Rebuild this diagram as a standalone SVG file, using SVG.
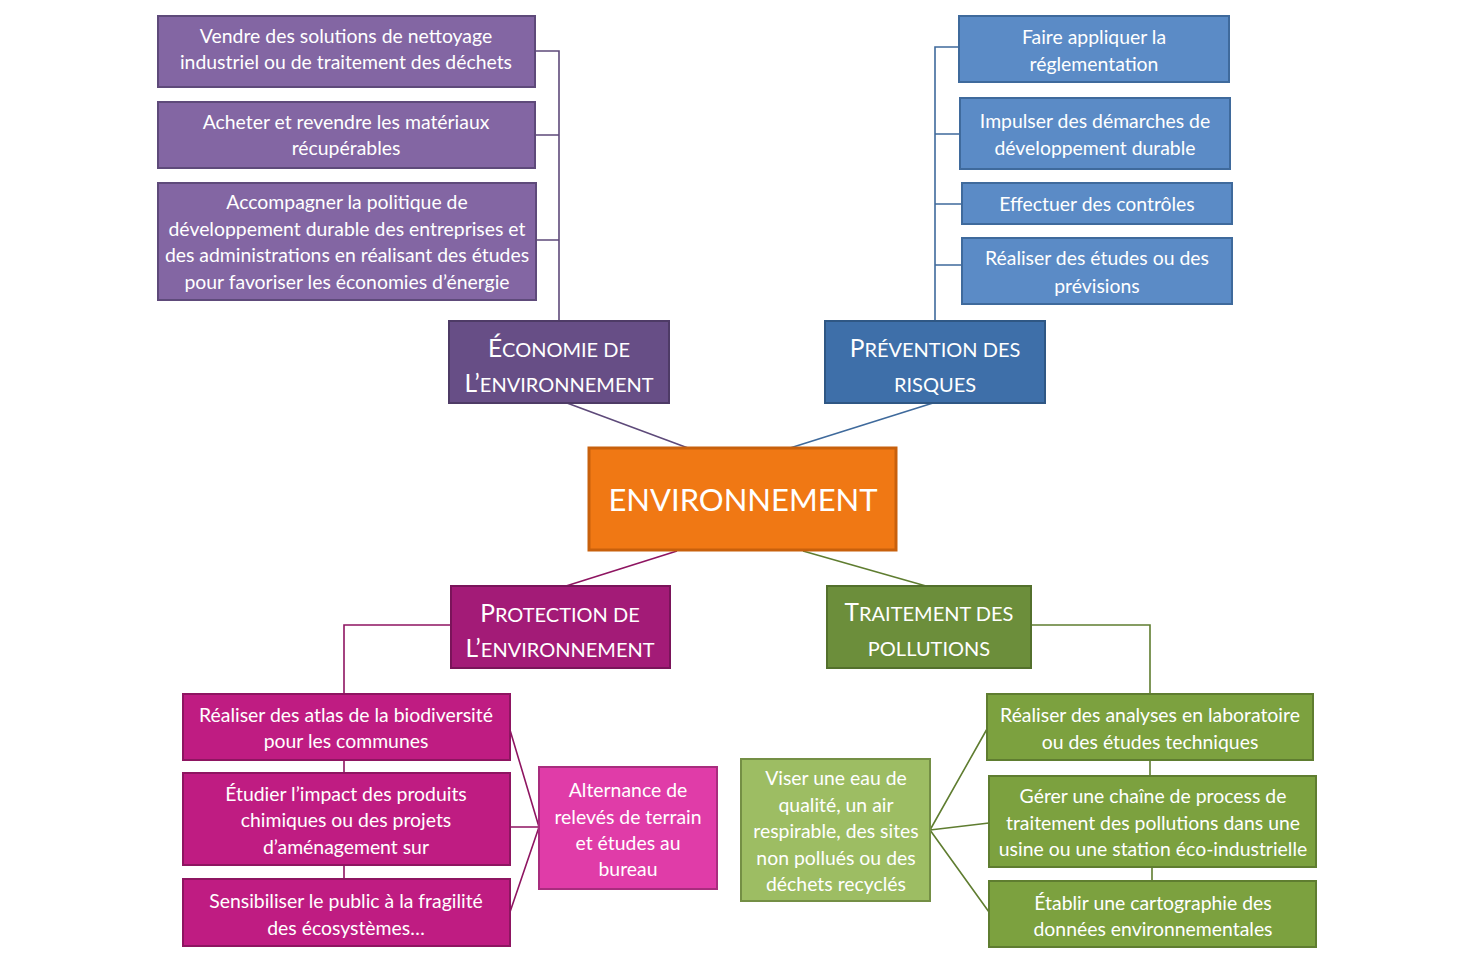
<svg xmlns="http://www.w3.org/2000/svg" width="1460" height="973" viewBox="0 0 1460 973">
<style>
text{font-family:Lato,"Open Sans","Liberation Sans",sans-serif;fill:#fff;text-anchor:middle}
.t{font-size:19.4px}
.h{font-size:20px}
.hb{font-size:24.5px}
.pu{fill:#8366a3;stroke:#5e4a7a;stroke-width:2}
.puh{fill:#674e86;stroke:#4e3b66;stroke-width:2}
.bl{fill:#5b8bc6;stroke:#3f6a9c;stroke-width:2}
.blh{fill:#3e6fa9;stroke:#2f5784;stroke-width:2}
.mg{fill:#bf1c82;stroke:#8e1561;stroke-width:2}
.mgh{fill:#a31b77;stroke:#7a145a;stroke-width:2}
.pk{fill:#e03ca8;stroke:#a82d7e;stroke-width:2}
.gr{fill:#7ca13f;stroke:#5f7d30;stroke-width:2}
.grh{fill:#6c8e3b;stroke:#53702c;stroke-width:2}
.gl{fill:#9dbd63;stroke:#748f45;stroke-width:2}
.or{fill:#f07814;stroke:#c8600c;stroke-width:3}
.c{fill:none;stroke-width:1.6}
</style>
<rect width="1460" height="973" fill="#fff"/>
<g id="connectors">
<path class="c" stroke="#5e4a7a" d="M535 51H559V321M535 135H559M536 240H559"/>
<path class="c" stroke="#5e4a7a" d="M567 403L688 448"/>
<path class="c" stroke="#3f6a9c" d="M959 47H935V321M960 134H935M962 204H935M962 265H935"/>
<path class="c" stroke="#3f6a9c" d="M933 403L790 448"/>
<path class="c" stroke="#8e1561" d="M677 551L566 586"/>
<path class="c" stroke="#8e1561" d="M451 625H344V694M344 760V773M344 865V879"/>
<path class="c" stroke="#8e1561" d="M539 827L510 730M539 827H510M539 827L510 912"/>
<path class="c" stroke="#5f7d30" d="M803 551L926 586"/>
<path class="c" stroke="#5f7d30" d="M1031 625H1150V694M1150 760V776M1152 867V881"/>
<path class="c" stroke="#5f7d30" d="M930 830L987 729M930 830L989 823M930 830L989 912"/>
</g>
<g id="n-center"><rect class="or" x="589" y="448" width="307" height="102"/><text x="743" y="511" style="font-size:31px">ENVIRONNEMENT</text></g>
<g id="n-eco"><rect class="puh" x="449" y="321" width="220" height="82"/>
<text x="559" y="357"><tspan class="hb">É</tspan><tspan class="h">CONOMIE DE</tspan></text>
<text x="559" y="392"><tspan class="hb">L’</tspan><tspan class="h">ENVIRONNEMENT</tspan></text></g>
<g id="n-eco1"><rect class="pu" x="158" y="16" width="377" height="71"/><text class="t" x="346" y="43">Vendre des solutions de nettoyage</text><text class="t" x="346" y="69">industriel ou de traitement des déchets</text></g>
<g id="n-eco2"><rect class="pu" x="158" y="102" width="377" height="66"/><text class="t" x="346" y="129">Acheter et revendre les matériaux</text><text class="t" x="346" y="155">récupérables</text></g>
<g id="n-eco3"><rect class="pu" x="158" y="183" width="378" height="117"/><text class="t" x="347" y="209">Accompagner la politique de</text><text class="t" x="347" y="236">développement durable des entreprises et</text><text class="t" x="347" y="262">des administrations en réalisant des études</text><text class="t" x="347" y="289">pour favoriser les économies d’énergie</text></g>
<g id="n-prev"><rect class="blh" x="825" y="321" width="220" height="82"/>
<text x="935" y="357"><tspan class="hb">P</tspan><tspan class="h">RÉVENTION DES</tspan></text>
<text x="935" y="392"><tspan class="h">RISQUES</tspan></text></g>
<g id="n-prev1"><rect class="bl" x="959" y="16" width="270" height="66"/><text class="t" x="1094" y="44">Faire appliquer la</text><text class="t" x="1094" y="71">réglementation</text></g>
<g id="n-prev2"><rect class="bl" x="960" y="98" width="270" height="71"/><text class="t" x="1095" y="128">Impulser des démarches de</text><text class="t" x="1095" y="155">développement durable</text></g>
<g id="n-prev3"><rect class="bl" x="962" y="183" width="270" height="41"/><text class="t" x="1097" y="211">Effectuer des contrôles</text></g>
<g id="n-prev4"><rect class="bl" x="962" y="238" width="270" height="66"/><text class="t" x="1097" y="265">Réaliser des études ou des</text><text class="t" x="1097" y="293">prévisions</text></g>
<g id="n-prot"><rect class="mgh" x="451" y="586" width="219" height="82"/>
<text x="560" y="622"><tspan class="hb">P</tspan><tspan class="h">ROTECTION DE</tspan></text>
<text x="560" y="657"><tspan class="hb">L’</tspan><tspan class="h">ENVIRONNEMENT</tspan></text></g>
<g id="n-prot1"><rect class="mg" x="183" y="694" width="327" height="66"/><text class="t" x="346" y="722">Réaliser des atlas de la biodiversité</text><text class="t" x="346" y="748">pour les communes</text></g>
<g id="n-prot2"><rect class="mg" x="183" y="773" width="327" height="92"/><text class="t" x="346" y="801">Étudier l’impact des produits</text><text class="t" x="346" y="827">chimiques ou des projets</text><text class="t" x="346" y="854">d’aménagement sur</text></g>
<g id="n-prot3"><rect class="mg" x="183" y="879" width="327" height="67"/><text class="t" x="346" y="908">Sensibiliser le public à la fragilité</text><text class="t" x="346" y="935">des écosystèmes…</text></g>
<g id="n-alt"><rect class="pk" x="539" y="767" width="178" height="122"/><text class="t" x="628" y="797">Alternance de</text><text class="t" x="628" y="824">relevés de terrain</text><text class="t" x="628" y="850">et études au</text><text class="t" x="628" y="876">bureau</text></g>
<g id="n-trait"><rect class="grh" x="827" y="586" width="204" height="82"/>
<text x="929" y="621"><tspan class="hb">T</tspan><tspan class="h">RAITEMENT DES</tspan></text>
<text x="929" y="656"><tspan class="h">POLLUTIONS</tspan></text></g>
<g id="n-trait1"><rect class="gr" x="987" y="694" width="326" height="66"/><text class="t" x="1150" y="722">Réaliser des analyses en laboratoire</text><text class="t" x="1150" y="749">ou des études techniques</text></g>
<g id="n-trait2"><rect class="gr" x="989" y="776" width="327" height="91"/><text class="t" x="1153" y="803">Gérer une chaîne de process de</text><text class="t" x="1153" y="830">traitement des pollutions dans une</text><text class="t" x="1153" y="856">usine ou une station éco-industrielle</text></g>
<g id="n-trait3"><rect class="gr" x="989" y="881" width="327" height="66"/><text class="t" x="1153" y="910">Établir une cartographie des</text><text class="t" x="1153" y="936">données environnementales</text></g>
<g id="n-viser"><rect class="gl" x="741" y="759" width="189" height="142"/><text class="t" x="836" y="785">Viser une eau de</text><text class="t" x="836" y="812">qualité, un air</text><text class="t" x="836" y="838">respirable, des sites</text><text class="t" x="836" y="865">non pollués ou des</text><text class="t" x="836" y="891">déchets recyclés</text></g>
</svg>
